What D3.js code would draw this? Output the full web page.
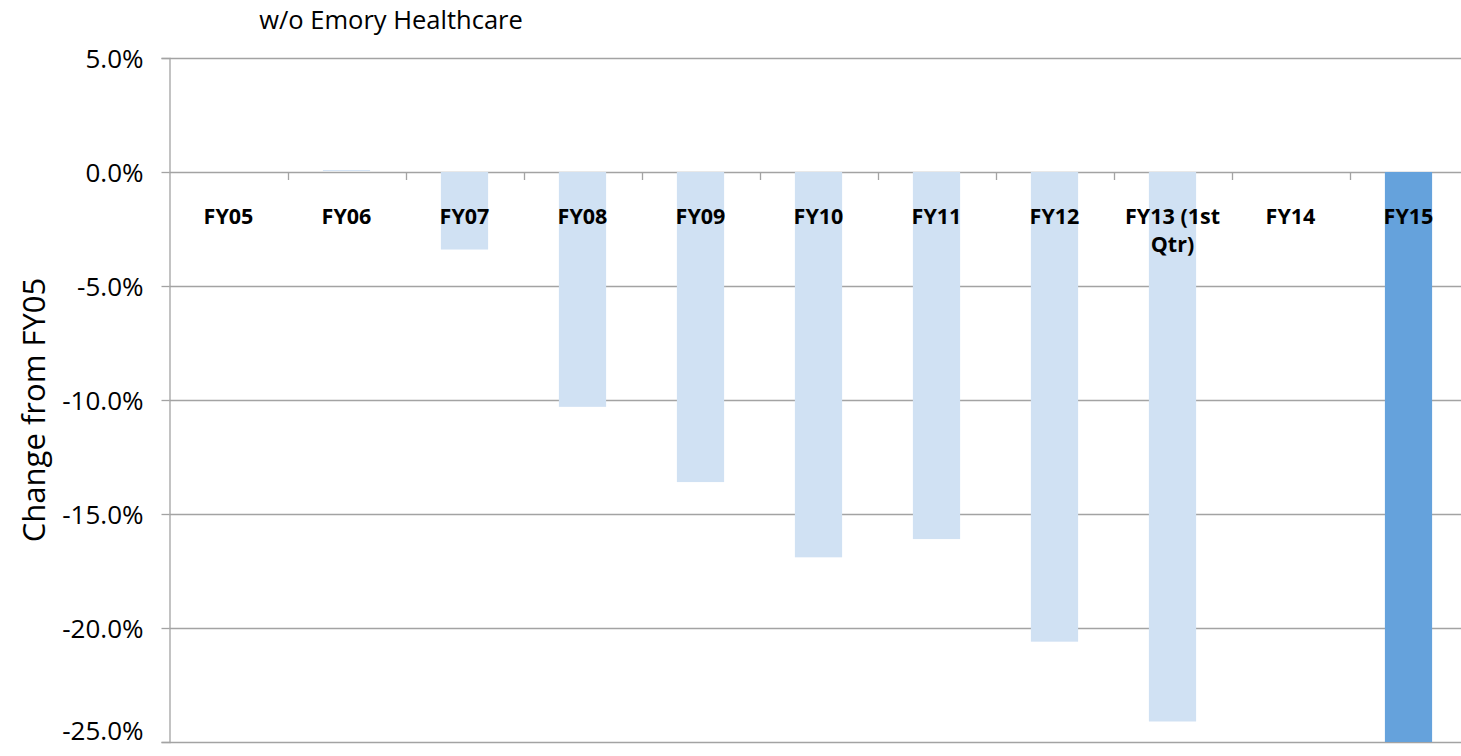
<!DOCTYPE html>
<html>
<head>
<meta charset="utf-8">
<script src="https://cdn.jsdelivr.net/npm/d3@7"></script>
<style>
  body { margin: 0; background: #fff; }
  svg text { font-family: "Open Sans", Lato, sans-serif; fill: #000; }
</style>
</head>
<body>
<div id="main"></div>
<script>
const ctx = {
    w: 1461,
    h: 756,
};

// data
const categories = ["FY05", "FY06", "FY07", "FY08", "FY09", "FY10", "FY11", "FY12", "FY13 (1st Qtr)", "FY14", "FY15"];
const changes = [0, 0.04, -3.4, -10.3, -13.6, -16.9, -16.1, -20.6, -24.1, null, -25.0];
const highlighted = ["FY15"];
const yTicks = [5, 0, -5, -10, -15, -20, -25];

function createViz(){
    let svg = d3.select("#main").append("svg")
        .attr("width", ctx.w)
        .attr("height", ctx.h);

    const left = 169.5, right = 1467.5, top = 58, bottom = 742;

    let x = d3.scaleBand()
        .domain(categories)
        .range([left, right])
        .paddingInner(0.6)
        .paddingOuter(0.3);
    let y = d3.scaleLinear()
        .domain([-25, 5])
        .range([bottom, top]);

    // gridlines
    svg.append("g").selectAll("line")
        .data(yTicks)
        .enter().append("line")
        .attr("x1", left)
        .attr("x2", ctx.w)
        .attr("y1", d => Math.round(y(d)) + 0.5)
        .attr("y2", d => Math.round(y(d)) + 0.5)
        .attr("stroke", "#a3a3a3")
        .attr("stroke-width", 1.3);

    // bars (zero values draw nothing)
    let data = categories.map((c, i) => ({cat: c, v: changes[i]})).filter(d => d.v);
    svg.append("g").selectAll("rect")
        .data(data)
        .enter().append("rect")
        .attr("x", d => x(d.cat))
        .attr("width", x.bandwidth())
        .attr("y", d => y(Math.max(0, d.v)) - (d.v > 0 ? 1 : 0))
        .attr("height", d => Math.max(1, Math.abs(y(d.v) - y(0))))
        .attr("fill", d => highlighted.includes(d.cat) ? "#65a2dc" : "#d0e1f3");

    // y axis
    let yAxis = d3.axisLeft(y)
        .tickValues(yTicks)
        .tickSize(8)
        .tickFormat(d => d3.format(".1f")(d).replace("\u2212", "-") + "%");
    let ya = svg.append("g")
        .attr("transform", `translate(${left},0)`)
        .call(yAxis);
    ya.select(".domain").attr("stroke", "#a3a3a3").attr("stroke-width", 1.3);
    ya.selectAll(".tick line").attr("stroke", "#a3a3a3").attr("stroke-width", 1.3);
    // bottom label lifted a little so it stays inside the page
    ya.selectAll(".tick text")
        .attr("x", -26)
        .attr("dy", d => d === -25 ? "-0.1em" : "0.36em")
        .style("font-size", "26px");

    // category tick marks along zero line
    let bounds = categories.slice(1).map(c => x(c) - x.step() * x.paddingInner() / 2);
    svg.append("g").selectAll("line")
        .data(bounds)
        .enter().append("line")
        .attr("x1", d => Math.round(d) + 0.5)
        .attr("x2", d => Math.round(d) + 0.5)
        .attr("y1", y(0))
        .attr("y2", y(0) + 8)
        .attr("stroke", "#a3a3a3")
        .attr("stroke-width", 1.3);

    // category labels
    let labels = svg.append("g").selectAll("text")
        .data(categories)
        .enter().append("text")
        .attr("text-anchor", "middle")
        .style("font-size", "21.5px")
        .style("font-weight", "bold");
    labels.selectAll("tspan")
        .data(d => d === "FY13 (1st Qtr)" ? ["FY13 (1st", "Qtr)"] : [d])
        .enter().append("tspan")
        .attr("x", function() { let c = d3.select(this.parentNode).datum(); return x(c) + x.bandwidth() / 2; })
        .attr("y", (d, i) => 224 + i * 28)
        .text(d => d);

    // titles
    svg.append("text")
        .attr("x", 391)
        .attr("y", 29)
        .attr("text-anchor", "middle")
        .style("font-size", "25.5px")
        .text("w/o Emory Healthcare");

    svg.append("text")
        .attr("transform", `translate(45,${(top + bottom) / 2 + 10}) rotate(-90)`)
        .attr("text-anchor", "middle")
        .style("font-size", "31px")
        .text("Change from FY05");
}

createViz();
</script>
</body>
</html>
